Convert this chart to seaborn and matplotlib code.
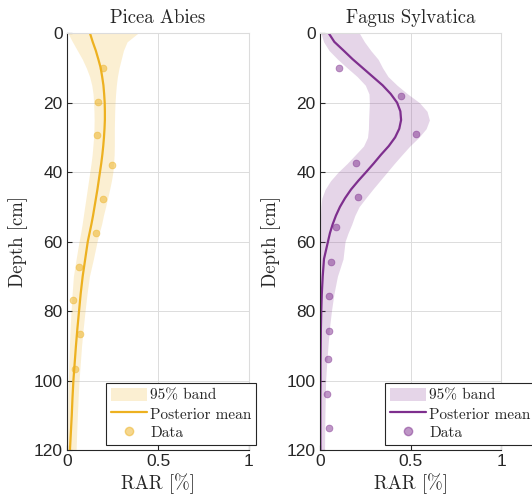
import seaborn as sns
import matplotlib.pyplot as plt
from matplotlib.patches import Patch
from matplotlib.lines import Line2D

# depth grid for posterior curves (cm)
depth = [0, 2.5, 5, 7.5, 10, 12.5, 15, 17.5, 20, 22.5, 25, 27.5, 30, 32.5, 35, 37.5, 40,
         42.5, 45, 47.5, 50, 52.5, 55, 57.5, 60,
         65, 70, 75, 80, 85, 90, 95, 100, 105, 110, 115, 120]

picea_mean = [0.126, 0.141, 0.158, 0.172, 0.185, 0.193, 0.200, 0.204, 0.207, 0.208, 0.208, 0.206, 0.203,
              0.199, 0.194, 0.188, 0.181, 0.174, 0.167, 0.159, 0.151, 0.143, 0.134, 0.124, 0.114,
              0.100, 0.086, 0.075, 0.066, 0.057, 0.049, 0.042, 0.035, 0.030, 0.026, 0.021, 0.016]
picea_lo = [0.005, 0.030, 0.057, 0.084, 0.106, 0.124, 0.136, 0.143, 0.146, 0.148, 0.149, 0.148, 0.146,
            0.142, 0.138, 0.132, 0.125, 0.118, 0.111, 0.104, 0.097, 0.090, 0.083, 0.075, 0.066,
            0.050, 0.035, 0.028, 0.022, 0.017, 0.013, 0.010, 0.007, 0.005, 0.004, 0.003, 0.002]
picea_hi = [0.390, 0.330, 0.310, 0.298, 0.286, 0.277, 0.271, 0.267, 0.264, 0.262, 0.261, 0.260, 0.260,
            0.260, 0.259, 0.256, 0.252, 0.244, 0.234, 0.223, 0.212, 0.200, 0.190, 0.177, 0.165,
            0.145, 0.123, 0.110, 0.099, 0.089, 0.080, 0.073, 0.066, 0.061, 0.057, 0.053, 0.050]
picea_depth = [9.9, 19.7, 29.4, 37.9, 47.7, 57.6, 67.4, 76.8, 86.7, 96.6]
picea_rar = [0.196, 0.168, 0.167, 0.249, 0.200, 0.159, 0.068, 0.035, 0.071, 0.042]

fagus_mean = [0.048, 0.079, 0.130, 0.180, 0.235, 0.290, 0.345, 0.390, 0.425, 0.443, 0.447, 0.437, 0.414,
              0.379, 0.336, 0.296, 0.254, 0.211, 0.171, 0.138, 0.110, 0.088, 0.070, 0.055, 0.044,
              0.022, 0.015, 0.010, 0.007, 0.005, 0.004, 0.003, 0.003, 0.002, 0.002, 0.002, 0.002]
fagus_lo = [0.005, 0.020, 0.050, 0.097, 0.150, 0.205, 0.250, 0.270, 0.272, 0.270, 0.268, 0.267, 0.262,
            0.240, 0.195, 0.150, 0.100, 0.058, 0.028, 0.010, 0.005, 0.003, 0.002, 0.002, 0.001,
            0.001, 0.001, 0.001, 0.001, 0.001, 0.001, 0.001, 0.001, 0.001, 0.001, 0.001, 0.001]
fagus_hi = [0.217, 0.245, 0.280, 0.320, 0.345, 0.375, 0.425, 0.483, 0.548, 0.590, 0.603, 0.585, 0.545,
            0.495, 0.452, 0.410, 0.370, 0.330, 0.290, 0.252, 0.215, 0.192, 0.175, 0.155, 0.138,
            0.127, 0.096, 0.077, 0.063, 0.052, 0.044, 0.037, 0.031, 0.029, 0.027, 0.026, 0.025]
fagus_depth = [9.9, 18.0, 28.9, 37.4, 47.3, 55.8, 65.9, 75.8, 85.8, 93.8, 103.9, 113.8]
fagus_rar = [0.103, 0.447, 0.528, 0.199, 0.211, 0.090, 0.063, 0.050, 0.048, 0.042, 0.037, 0.050]

species = ['Picea Abies', 'Fagus Sylvatica']
colors = ['#EDB120', '#7E2F8E']

sns.set_style('white')
plt.rcParams['font.family'] = ['Liberation Sans', 'DejaVu Sans']
serif = 'cmr10'
dark = '#262626'
light = '#dcdcdc'

fig = plt.figure(figsize=(5.32, 5.01), dpi=100)
axes = [fig.add_axes([0.126, 0.1018, 0.342, 0.832]),
        fig.add_axes([0.6015, 0.1018, 0.341, 0.832])]

panels = [(picea_mean, picea_lo, picea_hi, picea_depth, picea_rar),
          (fagus_mean, fagus_lo, fagus_hi, fagus_depth, fagus_rar)]

for ax, name, c, (m, lo, hi, dd, rr), lx in zip(axes, species, colors, panels, [0.214, 0.358]):
    ax.fill_betweenx(depth, lo, hi, color=c, alpha=0.2, linewidth=0)
    sns.lineplot(x=m, y=depth, orient='y', sort=False, color=c, linewidth=1.6, ax=ax)
    sns.scatterplot(x=rr, y=dd, s=24, color=c, alpha=0.5, edgecolor=c, linewidth=0.6, ax=ax, zorder=3)

    ax.set_xlim(0, 1)
    ax.set_ylim(120, 0)
    ax.set_xticks([0, 0.5, 1])
    ax.set_xticklabels(['0', '0.5', '1'])
    ax.set_yticks([0, 20, 40, 60, 80, 100, 120])
    ax.grid(True, color=light, linewidth=0.7)
    ax.set_axisbelow(True)
    for s in ['left', 'bottom']:
        ax.spines[s].set_color(dark)
        ax.spines[s].set_linewidth(0.8)
    for s in ['top', 'right']:
        ax.spines[s].set_color(light)
        ax.spines[s].set_linewidth(0.8)
    ax.tick_params(left=True, bottom=True, direction='in', length=3.5, width=0.8, color=dark,
                   labelsize=12.5, labelcolor=dark, pad=3)
    ax.set_title(name, fontfamily=serif, fontsize=13.5, pad=7)
    ax.set_xlabel('RAR [%]', fontfamily=serif, fontsize=13.5, color=dark, labelpad=3)
    ax.set_ylabel('Depth [cm]', fontfamily=serif, fontsize=13.5, color=dark, labelpad=4)

    handles = [Patch(facecolor=c, alpha=0.2, edgecolor='none'),
               Line2D([], [], color=c, linewidth=1.6),
               Line2D([], [], marker='o', linestyle='none', markersize=6,
                      markerfacecolor=c, markeredgecolor=c, alpha=0.5)]
    leg = ax.legend(handles, ['95% band', 'Posterior mean', 'Data'],
                    loc='lower left', bbox_to_anchor=(lx, 0.012),
                    prop={'family': serif, 'size': 11}, frameon=True, fancybox=False,
                    edgecolor=dark, framealpha=1, borderpad=0.3, labelspacing=0.25,
                    handlelength=2.4, handleheight=1.0, handletextpad=0.2, borderaxespad=0)
    leg.get_frame().set_linewidth(0.8)

fig.savefig('out.png', dpi=100)
